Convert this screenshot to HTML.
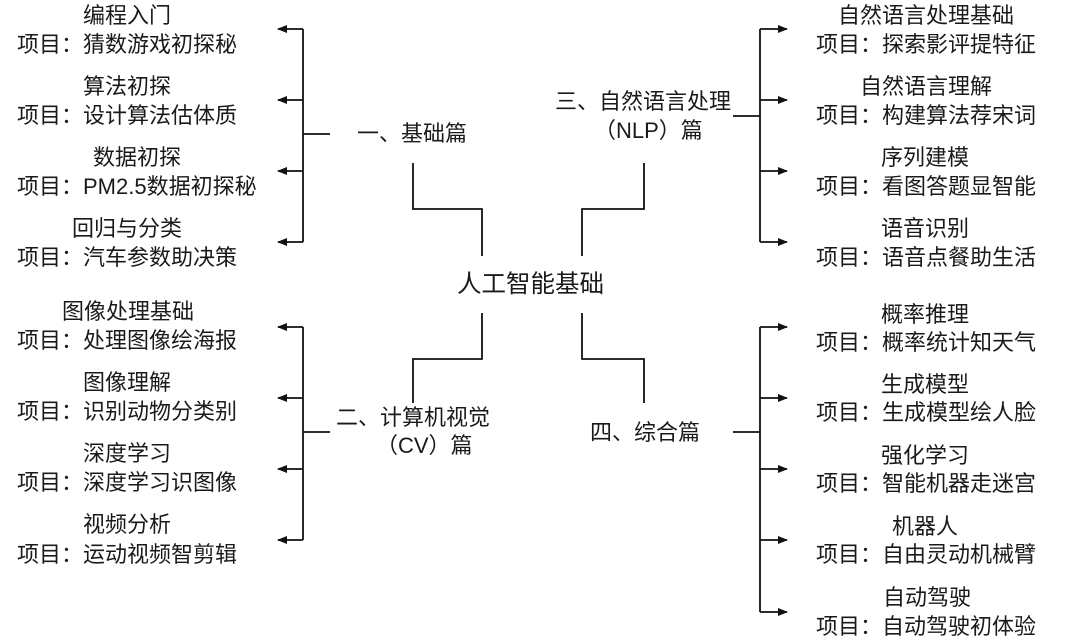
<!DOCTYPE html>
<html><head><meta charset="utf-8"><style>
body{margin:0;width:1080px;height:641px;background:#fff;position:relative;overflow:hidden;font-family:"Liberation Sans","Noto Sans CJK SC",sans-serif;color:#1a1a1a}
.t{position:absolute;font-size:22px;line-height:28px;white-space:nowrap}
svg{position:absolute;left:0;top:0}
</style></head><body>
<svg width="1080" height="641" viewBox="0 0 1080 641" fill="none" stroke="#111" stroke-width="1.8">
<defs><marker id="a" markerWidth="10" markerHeight="8" refX="9" refY="4" orient="auto" markerUnits="userSpaceOnUse"><path d="M0,0 L10,4 L0,8 z" fill="#111" stroke="none"/></marker></defs>
<path d="M303,29 V242"/><path d="M303,134 H330"/>
<path d="M303,29 H278" marker-end="url(#a)"/><path d="M303,100 H278" marker-end="url(#a)"/><path d="M303,171 H278" marker-end="url(#a)"/><path d="M303,242 H278" marker-end="url(#a)"/>
<path d="M303,327 V540"/><path d="M303,432 H330"/>
<path d="M303,327 H278" marker-end="url(#a)"/><path d="M303,398 H278" marker-end="url(#a)"/><path d="M303,469 H278" marker-end="url(#a)"/><path d="M303,540 H278" marker-end="url(#a)"/>
<path d="M760,29 V242"/><path d="M733,116 H760"/>
<path d="M760,29 H787" marker-end="url(#a)"/><path d="M760,100 H787" marker-end="url(#a)"/><path d="M760,171 H787" marker-end="url(#a)"/><path d="M760,242 H787" marker-end="url(#a)"/>
<path d="M760,327 V612"/><path d="M733,432 H760"/>
<path d="M760,327 H787" marker-end="url(#a)"/><path d="M760,398 H787" marker-end="url(#a)"/><path d="M760,469 H787" marker-end="url(#a)"/><path d="M760,540 H787" marker-end="url(#a)"/><path d="M760,612 H787" marker-end="url(#a)"/>
<path d="M413,163 V209 H482 V256"/>
<path d="M482,313 V359 H413 V403"/>
<path d="M644,163 V209 H582 V256"/>
<path d="M582,313 V359 H644 V403"/>
</svg>

<div class="t" style="left:457px;top:270px;font-size:24.5px;line-height:30px">人工智能基础</div>
<div class="t" style="left:357px;top:120px">一、基础篇</div>
<div class="t" style="left:336px;top:404px">二、计算机视觉</div>
<div class="t" style="left:376px;top:432px">（CV）篇</div>
<div class="t" style="left:555px;top:88px">三、自然语言处理</div>
<div class="t" style="left:594px;top:117px">（NLP）篇</div>
<div class="t" style="left:590px;top:419px">四、综合篇</div>

<div class="t" style="left:83px;top:2px">编程入门</div><div class="t" style="left:17px;top:31px">项目：猜数游戏初探秘</div>
<div class="t" style="left:83px;top:73px">算法初探</div><div class="t" style="left:17px;top:102px">项目：设计算法估体质</div>
<div class="t" style="left:93px;top:144px">数据初探</div><div class="t" style="left:17px;top:173px">项目：PM2.5数据初探秘</div>
<div class="t" style="left:72px;top:215px">回归与分类</div><div class="t" style="left:17px;top:244px">项目：汽车参数助决策</div>
<div class="t" style="left:62px;top:298px">图像处理基础</div><div class="t" style="left:17px;top:327px">项目：处理图像绘海报</div>
<div class="t" style="left:83px;top:369px">图像理解</div><div class="t" style="left:17px;top:398px">项目：识别动物分类别</div>
<div class="t" style="left:83px;top:440px">深度学习</div><div class="t" style="left:17px;top:469px">项目：深度学习识图像</div>
<div class="t" style="left:83px;top:511px">视频分析</div><div class="t" style="left:17px;top:541px">项目：运动视频智剪辑</div>
<div class="t" style="left:838px;top:2px">自然语言处理基础</div><div class="t" style="left:816px;top:31px">项目：探索影评提特征</div>
<div class="t" style="left:860px;top:73px">自然语言理解</div><div class="t" style="left:816px;top:102px">项目：构建算法荐宋词</div>
<div class="t" style="left:881px;top:144px">序列建模</div><div class="t" style="left:816px;top:173px">项目：看图答题显智能</div>
<div class="t" style="left:881px;top:215px">语音识别</div><div class="t" style="left:816px;top:244px">项目：语音点餐助生活</div>
<div class="t" style="left:881px;top:301px">概率推理</div><div class="t" style="left:816px;top:329px">项目：概率统计知天气</div>
<div class="t" style="left:881px;top:371px">生成模型</div><div class="t" style="left:816px;top:399px">项目：生成模型绘人脸</div>
<div class="t" style="left:881px;top:442px">强化学习</div><div class="t" style="left:816px;top:470px">项目：智能机器走迷宫</div>
<div class="t" style="left:892px;top:513px">机器人</div><div class="t" style="left:816px;top:541px">项目：自由灵动机械臂</div>
<div class="t" style="left:883px;top:584px">自动驾驶</div><div class="t" style="left:816px;top:613px">项目：自动驾驶初体验</div>
</body></html>
